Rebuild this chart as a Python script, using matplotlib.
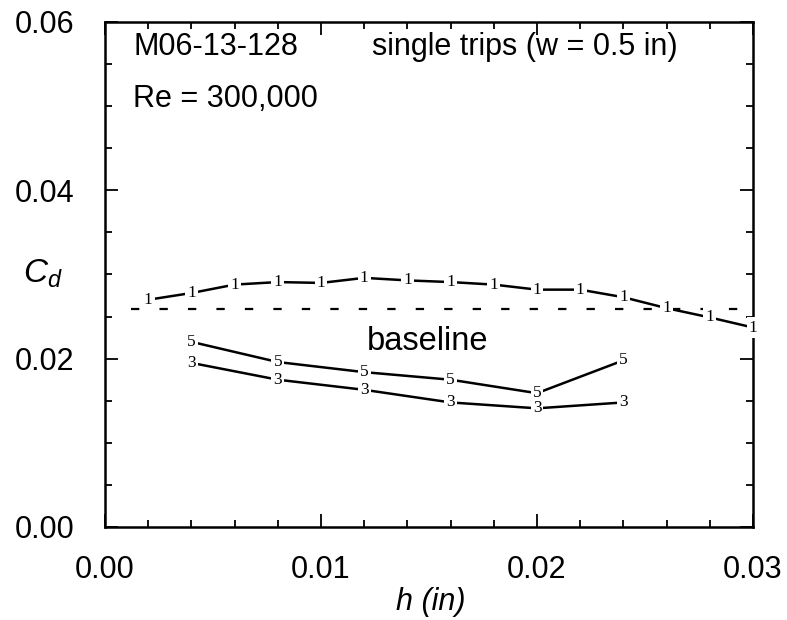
import matplotlib
matplotlib.use("Agg")
import matplotlib.pyplot as plt
from matplotlib.ticker import MultipleLocator, FormatStrFormatter

plt.rcParams['font.family'] = ['Liberation Sans', 'DejaVu Sans']
plt.rcParams['mathtext.fontset'] = 'custom'
plt.rcParams['mathtext.it'] = 'Liberation Sans:italic'
plt.rcParams['mathtext.rm'] = 'Liberation Sans'
plt.rcParams['lines.scale_dashes'] = False

# Data
h1 = [0.002, 0.004, 0.006, 0.008, 0.010, 0.012, 0.014, 0.016, 0.018, 0.020,
      0.022, 0.024, 0.026, 0.028, 0.030]
cd1 = [0.0270, 0.0278, 0.0288, 0.0291, 0.0290, 0.0296, 0.0293, 0.0291, 0.0288,
       0.0282, 0.0282, 0.0273, 0.0260, 0.0249, 0.0237]
h35 = [0.004, 0.008, 0.012, 0.016, 0.020, 0.024]
cd5 = [0.0220, 0.0196, 0.0184, 0.0175, 0.0159, 0.0198]
cd3 = [0.0195, 0.0175, 0.0163, 0.0148, 0.0141, 0.0148]
baseline_cd = 0.0259
baseline_x = [0.0012, 0.030]
series = [("1", h1, cd1), ("5", h35, cd5), ("3", h35, cd3)]

fig = plt.figure(figsize=(7.87, 6.2), dpi=100)
ax = fig.add_axes([105/787, 1-527/620, (753-105)/787, (527-22)/620])

ax.plot(baseline_x, [baseline_cd]*2, color='black', lw=1.6, dashes=(6, 14.5), zorder=1)

for lab, xs, ys in series:
    ax.plot(xs, ys, color='black', lw=1.8, zorder=2)
    for x, y in zip(xs, ys):
        ax.text(x, y, lab, ha='center', va='center', fontsize=12.5,
                family='Liberation Serif', zorder=3, clip_on=False,
                bbox=dict(boxstyle='square,pad=0.12', fc='white', ec='none'))

ax.set_xlim(0, 0.03)
ax.set_ylim(0, 0.06)
ax.xaxis.set_major_locator(MultipleLocator(0.01))
ax.xaxis.set_minor_locator(MultipleLocator(0.002))
ax.yaxis.set_major_locator(MultipleLocator(0.02))
ax.yaxis.set_minor_locator(MultipleLocator(0.005))
ax.xaxis.set_major_formatter(FormatStrFormatter('%.2f'))
ax.yaxis.set_major_formatter(FormatStrFormatter('%.2f'))
ax.tick_params(which='both', direction='in', top=True, right=True, width=1.3)
ax.tick_params(which='major', length=9.5, labelsize=22)
ax.tick_params(axis='x', which='major', pad=20)
ax.tick_params(axis='y', which='major', pad=22)
ax.tick_params(which='minor', length=5)
for s in ax.spines.values():
    s.set_linewidth(1.8)

ax.text(0.0013, 0.0561, "M06-13-128", fontsize=22, va='baseline')
ax.text(0.0013, 0.0499, "Re = 300,000", fontsize=22, va='baseline')
ax.text(0.01236, 0.0561, "single trips (w = 0.5 in)", fontsize=22, va='baseline')
ax.text(0.0121, 0.0210, "baseline", fontsize=23.5, va='baseline')

fig.text(23/787, 1-283/620, r'$C_d$', fontsize=24, va='baseline')
fig.text(431/787, 1-610/620, 'h (in)', fontsize=22, style='italic', ha='center', va='baseline')

fig.savefig("out.png", dpi=100)
